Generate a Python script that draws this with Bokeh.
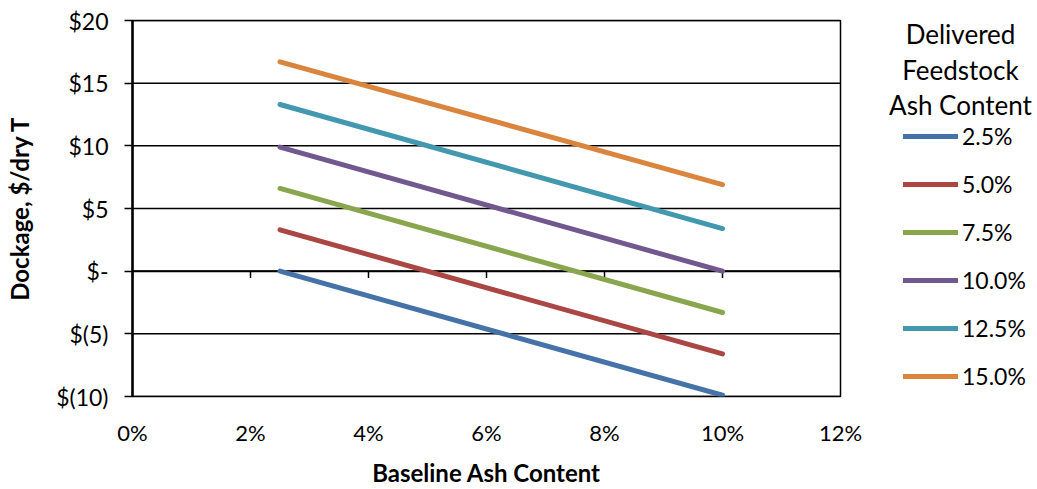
from bokeh.plotting import figure
from bokeh.models import Range1d, Legend, LegendItem, Label, FixedTicker, LinearAxis
from bokeh.layouts import row
from bokeh.embed import file_html
from bokeh.resources import INLINE

# ---- data ----
baseline_ash = [2.5, 10.0]  # % baseline ash content (x)
delivered_labels = ["2.5%", "5.0%", "7.5%", "10.0%", "12.5%", "15.0%"]
dock_2_5 = [0.0, -9.9]
dock_5_0 = [3.3, -6.6]
dock_7_5 = [6.6, -3.3]
dock_10_0 = [9.9, 0.0]
dock_12_5 = [13.3, 3.4]
dock_15_0 = [16.7, 6.9]
series = [dock_2_5, dock_5_0, dock_7_5, dock_10_0, dock_12_5, dock_15_0]
colors = ["#4572A7", "#AA4643", "#89A54E", "#71588F", "#4198AF", "#DB843D"]
x_ticks = [0, 2, 4, 6, 8, 10, 12]
x_tick_labels = ["0%", "2%", "4%", "6%", "8%", "10%", "12%"]
y_ticks = [-10, -5, 0, 5, 10, 15, 20]
y_tick_labels = ["$(10)", "$(5)", "$-", "$5", "$10", "$15", "$20"]
legend_title = ["Delivered", "Feedstock", "Ash Content"]

FONT = "Lato"
H = 489
MAIN_W = 870
LEG_W = 167
TOP, BOTTOM = 20, 400  # frame edges in page pixels

p = figure(width=MAIN_W, height=H, output_backend="svg", toolbar_location=None,
           x_range=Range1d(0, 12), y_range=Range1d(-10, 20),
           min_border_left=132, min_border_right=MAIN_W - 840, min_border_top=TOP,
           min_border_bottom=H - BOTTOM, x_axis_type=None, y_axis_type=None)
p.outline_line_color = "black"
p.outline_line_width = 1.5
p.background_fill_color = "white"
p.border_fill_color = "white"

# y axis
yax = LinearAxis(ticker=FixedTicker(ticks=y_ticks))
yax.major_label_overrides = {t: l for t, l in zip(y_ticks, y_tick_labels)}
yax.axis_line_color = "black"
yax.axis_line_width = 2.5
yax.major_tick_in = 0
yax.major_tick_out = 8
yax.major_tick_line_width = 1.5
yax.minor_tick_line_color = None
yax.major_label_standoff = 16
yax.major_label_text_font = FONT
yax.major_label_text_font_size = "23px"
yax.major_label_text_color = "black"
yax.axis_label = "Dockage, $/dry T"
yax.axis_label_text_font = FONT
yax.axis_label_text_font_style = "bold"
yax.axis_label_text_font_size = "24px"
yax.axis_label_text_color = "black"
yax.axis_label_standoff = 19
p.add_layout(yax, "left")

# x axis (labels at bottom)
xax = LinearAxis(ticker=FixedTicker(ticks=x_ticks))
xax.major_label_overrides = {t: l for t, l in zip(x_ticks, x_tick_labels)}
xax.axis_line_color = None
xax.major_tick_line_color = None
xax.major_tick_in = 0
xax.major_tick_out = 0
xax.minor_tick_line_color = None
xax.major_label_standoff = 22
xax.major_label_text_font = FONT
xax.major_label_text_font_size = "22px"
xax.major_label_text_color = "black"
xax.axis_label = "Baseline Ash Content"
xax.axis_label_text_font = FONT
xax.axis_label_text_font_style = "bold"
xax.axis_label_text_font_size = "24px"
xax.axis_label_text_color = "black"
xax.axis_label_standoff = 9
p.add_layout(xax, "below")

# horizontal gridlines
p.segment(x0=[0] * len(y_ticks), x1=[12] * len(y_ticks), y0=y_ticks, y1=y_ticks,
          line_color="black", line_width=1.5)
# horizontal axis line at zero with tick marks
p.segment(x0=[0], x1=[12], y0=[0], y1=[0], line_color="black", line_width=2)
p.segment(x0=x_ticks, x1=x_ticks, y0=[0] * len(x_ticks), y1=[-0.55] * len(x_ticks),
          line_color="black", line_width=1.5)

for vals, c in zip(series, colors):
    p.line(baseline_ash, vals, line_color=c, line_width=5, line_cap="round")

# ---- legend panel (separate figure; same frame top/bottom, y data = H - page y) ----
OFF = 100
lp = figure(width=LEG_W, height=H, output_backend="svg", toolbar_location=None,
            x_range=Range1d(OFF, OFF + LEG_W), y_range=Range1d(H - BOTTOM, H - TOP),
            min_border_left=0, min_border_right=0, min_border_top=TOP,
            min_border_bottom=H - BOTTOM, x_axis_type=None, y_axis_type=None)
lp.outline_line_color = None
lp.xgrid.visible = False
lp.ygrid.visible = False

items = []
for lab, vals, c in zip(delivered_labels, series, colors):
    r = lp.line(baseline_ash, vals, line_color=c, line_width=5, line_cap="round")
    items.append(LegendItem(label=lab, renderers=[r]))

legend = Legend(items=items, location=(33, 6))
legend.padding = 0
legend.margin = 0
legend.border_line_color = None
legend.background_fill_alpha = 0
legend.glyph_width = 55
legend.glyph_height = 24
legend.label_height = 24
legend.spacing = 20
legend.label_standoff = 4
legend.label_text_font = FONT
legend.label_text_font_size = "23px"
legend.label_text_color = "black"
legend.label_text_baseline = "middle"
lp.add_layout(legend)

for txt, yy in zip(legend_title, [H - 34, H - 70, H - 105]):
    lp.add_layout(Label(x=OFF + 90, y=yy, text=txt, text_align="center", text_baseline="middle",
                        text_font=FONT, text_font_size="26px", text_color="black"))

layout = row(p, lp)
open("out.html", "w").write(file_html(layout, INLINE))
